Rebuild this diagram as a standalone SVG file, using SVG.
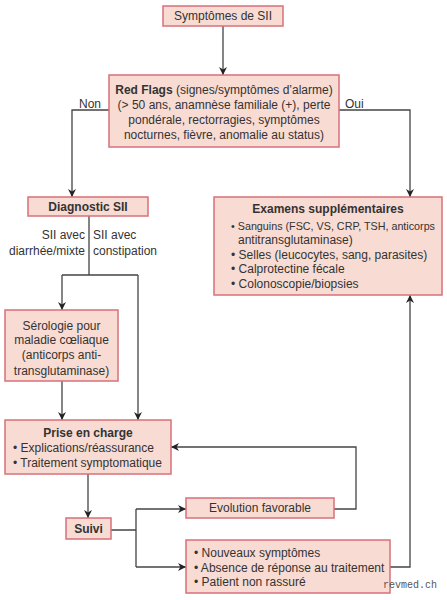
<svg xmlns="http://www.w3.org/2000/svg" width="447" height="600" viewBox="0 0 447 600">
<defs>
<style>
.box{fill:#f8dbd2;stroke:#d8707a;stroke-width:1.5}
.t{font-family:"Liberation Sans",Arial,sans-serif;font-size:12px;fill:#333}
.c{text-anchor:middle}
.b{font-weight:bold}
.ln{fill:none;stroke:#444;stroke-width:1.3}
.wm{font-family:"Liberation Mono",monospace;font-size:10px;fill:#555}
</style>
<marker id="ah" viewBox="0 0 10 10" refX="10" refY="5" markerWidth="8" markerHeight="8" markerUnits="userSpaceOnUse" orient="auto">
<path d="M0,0 L10,5 L0,10 L3,5 z" fill="#222"/>
</marker>
</defs>
<rect width="447" height="600" fill="#fff"/>
<g id="connectors">
<path class="ln" d="M223,26 V75" marker-end="url(#ah)"/>
<path class="ln" d="M109,110 H72 V197" marker-end="url(#ah)"/>
<path class="ln" d="M339,110 H410 V197" marker-end="url(#ah)"/>
<path class="ln" d="M89,216 V275 M62,275 H138"/>
<path class="ln" d="M62,275 V310" marker-end="url(#ah)"/>
<path class="ln" d="M138,275 V420" marker-end="url(#ah)"/>
<path class="ln" d="M62,381 V420" marker-end="url(#ah)"/>
<path class="ln" d="M88,474 V518" marker-end="url(#ah)"/>
<path class="ln" d="M111,530 H136 M136,509 V567"/>
<path class="ln" d="M136,509 H186" marker-end="url(#ah)"/>
<path class="ln" d="M136,567 H186" marker-end="url(#ah)"/>
<path class="ln" d="M334,509 H356 V447 H171" marker-end="url(#ah)"/>
<path class="ln" d="M390,567 H410 V295" marker-end="url(#ah)"/>
<text class="t" x="79" y="108">Non</text>
<text class="t" x="345" y="108">Oui</text>
<text class="t" x="85" y="239" text-anchor="end">SII avec</text>
<text class="t" x="85" y="255" text-anchor="end">diarrhée/mixte</text>
<text class="t" x="93" y="239">SII avec</text>
<text class="t" x="93" y="255">constipation</text>
</g>
<g id="symptomes">
<rect class="box" x="163" y="6" width="120" height="20"/>
<text class="t c" x="223" y="20">Symptômes de SII</text>
</g>
<g id="redflags">
<rect class="box" x="109" y="75" width="230" height="72"/>
<text class="t c" x="224" y="94"><tspan class="b">Red Flags</tspan> (signes/symptômes d’alarme)</text>
<text class="t c" x="224" y="109">(&gt; 50 ans, anamnèse familiale (+), perte</text>
<text class="t c" x="224" y="124">pondérale, rectorragies, symptômes</text>
<text class="t c" x="224" y="139">nocturnes, fièvre, anomalie au status)</text>
</g>
<g id="diagnostic">
<rect class="box" x="28" y="197" width="120" height="19"/>
<text class="t c b" x="88" y="211">Diagnostic SII</text>
</g>
<g id="examens">
<rect class="box" x="214" y="197" width="228" height="98"/>
<text class="t c b" x="328" y="213">Examens supplémentaires</text>
<text class="t" x="231" y="230" style="font-size:11.2px" textLength="204" lengthAdjust="spacingAndGlyphs">• Sanguins (FSC, VS, CRP, TSH, anticorps</text>
<text class="t" x="238" y="244">antitransglutaminase)</text>
<text class="t" x="231" y="259">• Selles (leucocytes, sang, parasites)</text>
<text class="t" x="231" y="273">• Calprotectine fécale</text>
<text class="t" x="231" y="288">• Colonoscopie/biopsies</text>
</g>
<g id="serologie">
<rect class="box" x="5" y="310" width="113" height="71"/>
<text class="t c" x="61.5" y="330">Sérologie pour</text>
<text class="t c" x="61.5" y="344">maladie cœliaque</text>
<text class="t c" x="61.5" y="359">(anticorps anti-</text>
<text class="t c" x="61.5" y="375">transglutaminase)</text>
</g>
<g id="prise">
<rect class="box" x="5" y="420" width="166" height="54"/>
<text class="t c b" x="88" y="437">Prise en charge</text>
<text class="t" x="13" y="452">• Explications/réassurance</text>
<text class="t" x="13" y="467">• Traitement symptomatique</text>
</g>
<g id="suivi">
<rect class="box" x="66" y="518" width="45" height="21"/>
<text class="t c b" x="88.5" y="533">Suivi</text>
</g>
<g id="evolution">
<rect class="box" x="186" y="498" width="148" height="20"/>
<text class="t c" x="260" y="512">Evolution favorable</text>
</g>
<g id="nouveaux">
<rect class="box" x="186" y="540" width="204" height="53"/>
<text class="t" x="194" y="557">• Nouveaux symptômes</text>
<text class="t" x="194" y="572">• Absence de réponse au traitement</text>
<text class="t" x="194" y="586">• Patient non rassuré</text>
</g>
<text class="wm" x="383" y="588">revmed.ch</text>
</svg>
